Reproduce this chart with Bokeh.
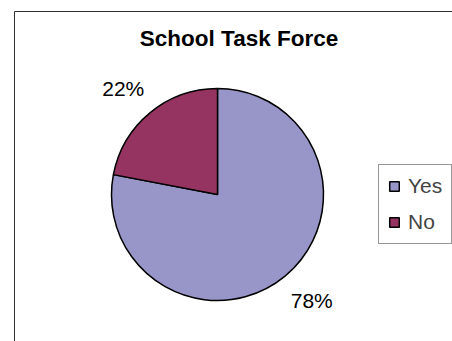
import math
from bokeh.plotting import figure
from bokeh.models import Range1d, ColumnDataSource, Legend, LegendItem, Label
from bokeh.core.properties import value
from bokeh.embed import file_html
from bokeh.resources import INLINE

# ---- data ----
title = "School Task Force"
categories = ["Yes", "No"]
values = [78, 22]
colors = ["#9895C9", "#953461"]

# ---- layout (pixel coordinate system: 1 data unit = 1 screen px) ----
W, H = 452, 341
FONT = "Liberation Sans"


def px(x):  # page x -> data x
    return x


def py(y):  # page y -> data y
    return H - y


cx, cy, R = px(217), py(194), 106
label_r = 142
label_rot = math.radians(2)

total = float(sum(values))
starts, ends, lx, ly, texts = [], [], [], [], []
a = math.pi / 2
for v in values:
    frac = v / total
    e = a - frac * 2 * math.pi
    starts.append(a)
    ends.append(e)
    mid = (a + e) / 2 + label_rot
    lx.append(cx + label_r * math.cos(mid))
    ly.append(cy + label_r * math.sin(mid))
    texts.append(f"{round(100 * frac)}%")
    a = e

src = ColumnDataSource(dict(cat=categories, val=values, color=colors,
                            start=starts, end=ends, lx=lx, ly=ly, txt=texts))

p = figure(width=W, height=H, output_backend="svg", toolbar_location=None,
           x_range=Range1d(0, W), y_range=Range1d(0, H), min_border=0,
           x_axis_location=None, y_axis_location=None)
p.grid.visible = False
p.outline_line_color = None
p.background_fill_color = "white"
p.border_fill_color = "white"

# chart area border (left and top visible in window)
p.line(x=[px(14), px(14), px(460)], y=[py(350), py(11), py(11)],
       line_color="#303030", line_width=1)

wr = p.wedge(x=cx, y=cy, radius=R, radius_units="screen",
             start_angle="start", end_angle="end", direction="clock",
             fill_color="color", line_color="black", line_width=1.5, source=src)

p.text(x="lx", y="ly", text="txt", source=src, text_align="center",
       text_baseline="middle", text_font=value(FONT), text_font_size="21px",
       text_color="black")

p.add_layout(Label(x=px(238.5), y=py(38), text=title, text_align="center",
                   text_baseline="middle", text_font=FONT, text_font_size="22.5px",
                   text_font_style="bold", text_color="black"))

items = [LegendItem(label=c, renderers=[wr], index=i) for i, c in enumerate(categories)]
legend = Legend(items=items, location=(px(378), py(244)),
                label_text_font=FONT, label_text_font_size="21px",
                glyph_width=12, glyph_height=12, label_standoff=8,
                padding=9, spacing=12, label_height=24, margin=0,
                border_line_color="#303030", border_line_width=1,
                background_fill_color="white", background_fill_alpha=1)
p.add_layout(legend)

open("out.html", "w").write(file_html(p, INLINE))
